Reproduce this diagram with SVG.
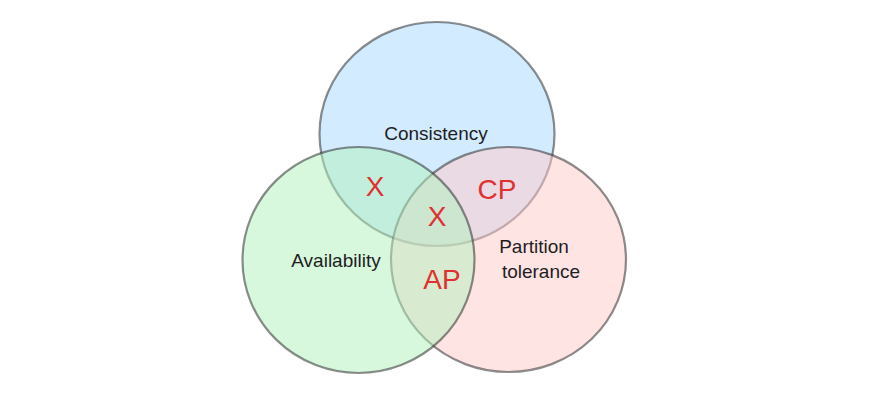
<svg xmlns="http://www.w3.org/2000/svg" width="871" height="408" viewBox="0 0 871 408">
<style>
.c{stroke:#1e1e1e;stroke-opacity:0.5;stroke-width:2.2;fill-opacity:0.5}
.t{font-family:"Liberation Sans",Arial,sans-serif;font-size:19px;fill:#1e1e1e;text-anchor:middle}
.r{font-family:"Liberation Sans",Arial,sans-serif;font-size:28px;fill:#e03131;text-anchor:middle}
</style>
<rect width="871" height="408" fill="#ffffff"/>
<g id="consistency">
<ellipse class="c" cx="437" cy="134" rx="117.5" ry="112" fill="#a5d8ff"/>
</g>
<g id="partition">
<ellipse class="c" cx="508.5" cy="259.5" rx="117.5" ry="112.5" fill="#ffc9c9"/>
</g>
<g id="availability">
<ellipse class="c" cx="358.5" cy="260" rx="116" ry="113" fill="#b2f2bb"/>
</g>
<g id="labels">
<text class="t" x="436" y="140">Consistency</text>
<text class="t" x="336" y="267">Availability</text>
<text class="t" x="534" y="253">Partition</text>
<text class="t" x="541" y="278">tolerance</text>
<text class="r" x="375" y="196">X</text>
<text class="r" x="437" y="226">X</text>
<text class="r" x="497" y="199">CP</text>
<text class="r" x="442" y="289">AP</text>
</g>
</svg>
